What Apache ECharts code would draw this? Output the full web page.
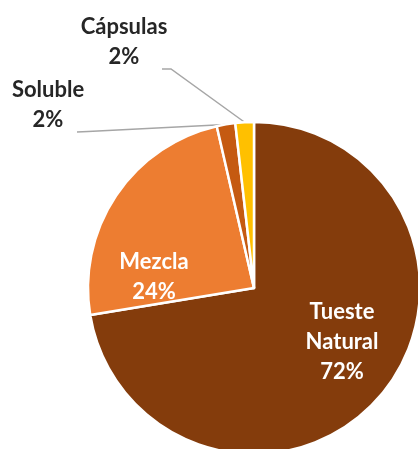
<!DOCTYPE html>
<html>
<head>
<meta charset="utf-8">
<script src="https://cdn.jsdelivr.net/npm/echarts@6/dist/echarts.min.js"></script>
<style>
  html, body { margin: 0; padding: 0; background: #fff; }
  #main { width: 418px; height: 449px; }
</style>
</head>
<body>
<div id="main"></div>
<script>
// datos del gráfico
const categories = ['Tueste\nNatural', 'Mezcla', 'Soluble', 'Cápsulas'];
const shares = [72.4, 24.0, 1.8, 1.8];
const colors = ['#843C0C', '#ED7D31', '#C55A11', '#FFC000'];

// posición de cada etiqueta (centro del bloque de texto)
const labelPos = [[342, 342], [154, 277], [48, 105], [124, 42]];
// quiebre de las líneas guía (solo etiquetas externas)
const guideEnds = [null, null, [[77, 132], [88, 131.5]], [[162, 69], [171, 69]]];

const chart = echarts.init(document.getElementById('main'), null, { renderer: 'canvas' });

const pieData = categories.map((name, i) => {
  const inside = i < 2;
  return {
    name: name,
    value: shares[i],
    itemStyle: { color: colors[i] },
    label: { color: inside ? '#ffffff' : '#262626' },
    labelLine: { show: !inside }
  };
});

const option = {
  animation: false,
  series: [{
    type: 'pie',
    center: [254, 288],
    radius: 166,
    startAngle: 90,
    clockwise: true,
    avoidLabelOverlap: false,
    itemStyle: { borderColor: '#ffffff', borderWidth: 2.5 },
    label: {
      show: true,
      position: 'outside',
      fontFamily: 'Lato',
      fontWeight: 'bold',
      fontSize: 22,
      lineHeight: 30,
      align: 'center',
      overflow: 'none',
      formatter: p => p.name + '\n' + Math.round(p.percent) + '%'
    },
    labelLine: {
      lineStyle: { color: '#A6A6A6', width: 1.5 }
    },
    labelLayout: function (params) {
      const i = params.dataIndex;
      const pos = labelPos[i];
      const out = {
        x: pos[0],
        y: pos[1],
        align: 'center',
        verticalAlign: 'middle',
        hideOverlap: false
      };
      if (guideEnds[i] && params.labelLinePoints) {
        const start = params.labelLinePoints[0];
        out.labelLinePoints = [guideEnds[i][0], guideEnds[i][1], start];
      }
      return out;
    },
    data: pieData
  }]
};

chart.setOption(option);
</script>
</body>
</html>
